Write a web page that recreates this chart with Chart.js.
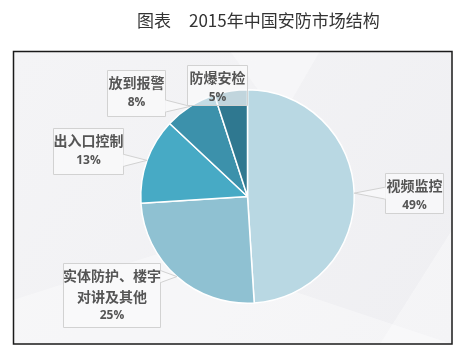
<!DOCTYPE html>
<html lang="zh">
<head>
  <meta charset="UTF-8">
  <title>2015年中国安防市场结构</title>
  <style>
    body { margin: 0; background: #fff; }
    .chart-box { position: relative; width: 473px; height: 350px; }
  </style>
  <script src="https://cdn.jsdelivr.net/npm/chart.js"></script>
</head>
<body>
<div class="chart-box">
  <canvas id="anfangChart"></canvas>
</div>

<script>
  // 市场结构数据（%）
  const segments = ['视频监控', '实体防护、楼宇\n对讲及其他', '出入口控制', '放到报警', '防爆安检'];
  const shares = [49, 25, 13, 8, 5];

  const sliceColors = ['#b9d8e3', '#8fc1d2', '#47aac5', '#3c91ab', '#2f7890'];

  // 标注框位置 [x, y, 宽, 高, 指针所在边]
  const calloutBoxes = [
    [385, 173, 58, 40, 'left'],
    [63, 263, 97, 64, 'right'],
    [53, 128, 70, 46, 'right'],
    [107, 70, 58, 46, 'right'],
    [187, 65, 60, 40, 'none']
  ];

  const fontCJK = '"Noto Sans CJK SC", "Microsoft YaHei", sans-serif';

  // 背景、外框和标题
  const framePlugin = {
    id: 'frame',
    beforeDraw(chart) {
      const ctx = chart.ctx;
      ctx.save();
      ctx.fillStyle = '#fff';
      ctx.fillRect(0, 0, chart.width, chart.height);

      const g = ctx.createLinearGradient(13, 51, 452, 344);
      g.addColorStop(0, '#f4f4f6');
      g.addColorStop(1, '#efeff2');
      ctx.fillStyle = g;
      ctx.fillRect(13, 51, 439, 293);

      // 浅色几何纹理
      ctx.fillStyle = 'rgba(255,255,255,0.35)';
      ctx.beginPath();
      ctx.moveTo(13, 300); ctx.lineTo(170, 250); ctx.lineTo(452, 344); ctx.lineTo(13, 344);
      ctx.fill();
      ctx.beginPath();
      ctx.moveTo(230, 51); ctx.lineTo(320, 51); ctx.lineTo(280, 120);
      ctx.fill();
      ctx.beginPath();
      ctx.moveTo(452, 230); ctx.lineTo(452, 344); ctx.lineTo(380, 344);
      ctx.fill();

      ctx.strokeStyle = '#1a1a1a';
      ctx.lineWidth = 1.5;
      ctx.strokeRect(13.5, 51.5, 438.5, 292.5);

      ctx.fillStyle = '#333';
      ctx.font = '17px ' + fontCJK;
      ctx.textBaseline = 'middle';
      ctx.textAlign = 'left';
      ctx.fillText('图表', 137, 21);
      ctx.fillText('2015年中国安防市场结构', 189, 21);
      ctx.restore();
    }
  };

  // 引线标注框
  const calloutPlugin = {
    id: 'callouts',
    afterDatasetsDraw(chart) {
      const ctx = chart.ctx;
      const arcs = chart.getDatasetMeta(0).data;
      ctx.save();
      arcs.forEach((arc, i) => {
        const [bx, by, bw, bh, side] = calloutBoxes[i];
        const p = arc.getProps(['x', 'y', 'startAngle', 'endAngle', 'outerRadius'], true);
        const mid = (p.startAngle + p.endAngle) / 2;
        const ax = p.x + Math.cos(mid) * p.outerRadius;
        const ay = p.y + Math.sin(mid) * p.outerRadius;

        ctx.beginPath();
        ctx.rect(bx + 0.5, by + 0.5, bw, bh);
        ctx.fillStyle = 'rgba(250,250,251,0.72)';
        ctx.fill();
        ctx.strokeStyle = '#d2d2d2';
        ctx.lineWidth = 1;
        ctx.stroke();

        if (side !== 'none') {
          const ex = side === 'left' ? bx + 0.5 : bx + bw + 0.5;
          const cy = Math.min(Math.max(ay, by + 10), by + bh - 10);
          ctx.beginPath();
          ctx.moveTo(ex, cy - 6);
          ctx.lineTo(ax, ay);
          ctx.lineTo(ex, cy + 6);
          ctx.fillStyle = 'rgba(250,250,251,0.72)';
          ctx.fill();
          ctx.stroke();
          ctx.fillRect(ex - 1, cy - 5.5, 2, 11);
        }

        const lines = segments[i].split('\n');
        ctx.fillStyle = '#555';
        ctx.textAlign = 'center';
        ctx.textBaseline = 'middle';
        const cx = bx + bw / 2 + 0.5;
        let ty = by + 13;
        ctx.font = 'bold 14px ' + fontCJK;
        lines.forEach(t => {
          ctx.fillText(t, cx, ty);
          ty += 20.5;
        });
        ctx.font = 'bold 12px "Open Sans", sans-serif';
        ctx.fillText(shares[i] + '%', cx, ty - 1);
      });
      ctx.restore();
    }
  };

  new Chart(document.getElementById('anfangChart'), {
    type: 'pie',
    data: {
      labels: segments,
      datasets: [{
        data: shares,
        backgroundColor: sliceColors,
        borderColor: '#ffffff',
        borderWidth: 1.5
      }]
    },
    options: {
      responsive: true,
      maintainAspectRatio: false,
      animation: false,
      layout: { padding: { top: 89, bottom: 46, left: 140, right: 118 } },
      plugins: {
        legend: { display: false },
        tooltip: { enabled: false }
      }
    },
    plugins: [framePlugin, calloutPlugin]
  });
</script>
</body>
</html>
